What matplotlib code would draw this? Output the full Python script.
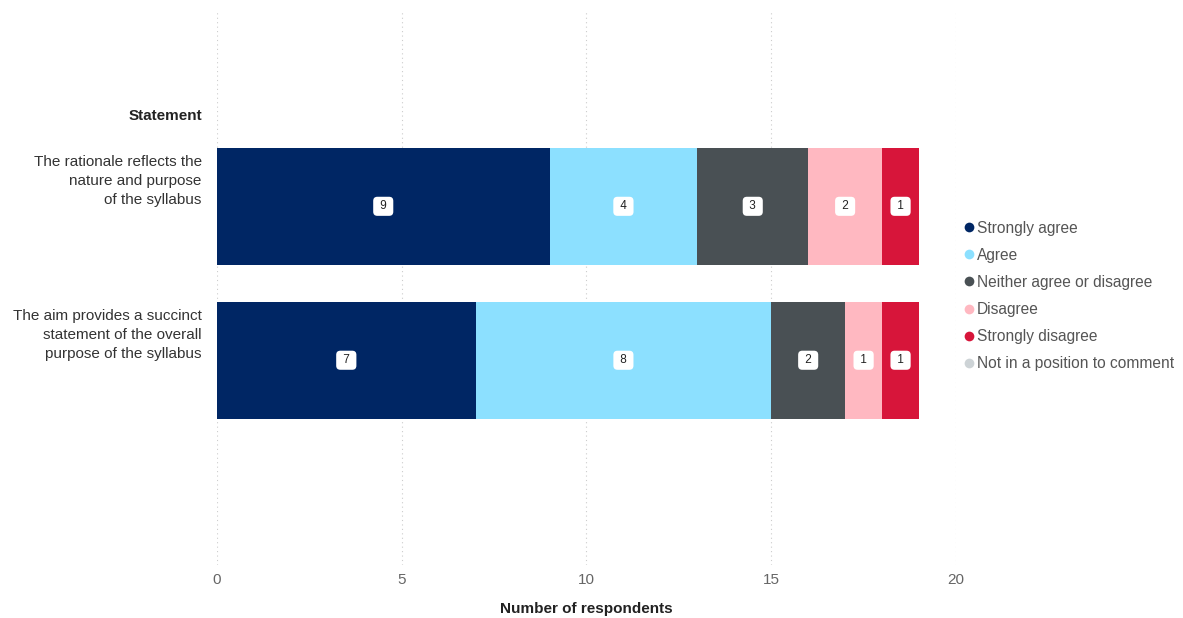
import matplotlib
matplotlib.use("Agg")
import matplotlib.pyplot as plt
from matplotlib.lines import Line2D

plt.rcParams["font.family"] = ["Liberation Sans", "DejaVu Sans"]

statements = [
    "The rationale reflects the\nnature and purpose\nof the syllabus",
    "The aim provides a succinct\nstatement of the overall\npurpose of the syllabus",
]
responses = [
    "Strongly agree",
    "Agree",
    "Neither agree or disagree",
    "Disagree",
    "Strongly disagree",
    "Not in a position to comment",
]
strongly_agree = [9, 7]
agree = [4, 8]
neither = [3, 2]
disagree = [2, 1]
strongly_disagree = [1, 1]
no_comment = [0, 0]
colors = ["#002664", "#8CE0FF", "#495054", "#FFB8C1", "#D7153A", "#CDD3D6"]
x_ticks = [0, 5, 10, 15, 20]

series = [strongly_agree, agree, neither, disagree, strongly_disagree, no_comment]

fig = plt.figure(figsize=(11.83, 6.18), dpi=100)
ax = fig.add_axes([0.1834, 0.0858, 0.6247, 0.8982])

ypos = list(range(len(statements)))
left = [0] * len(statements)
for vals, col in zip(series, colors):
    ax.barh(ypos, vals, left=left, height=0.76, color=col, edgecolor="none", zorder=2)
    for i, v in enumerate(vals):
        if v > 0:
            ax.text(left[i] + v / 2, ypos[i], f" {v} ", ha="center", va="center",
                    fontsize=8.5, color="#222222", zorder=3,
                    bbox=dict(boxstyle="round,pad=0.3,rounding_size=0.35",
                              fc="white", ec="none"))
    left = [l + v for l, v in zip(left, vals)]

ax.set_xlim(0, 20)
ax.set_ylim(1 + 1.33, -1.276)
ax.set_xticks(x_ticks)
ax.set_xticklabels([str(t) for t in x_ticks], fontsize=11, color="#666666")
ax.tick_params(axis="x", length=0, pad=6)
ax.set_yticks([])
ax.grid(axis="x", linestyle=(0, (1, 3)), color="#cccccc", linewidth=0.8, zorder=0)
for s in ax.spines.values():
    s.set_visible(False)

# category labels sit near the top edge of each bar
for y, label in zip(ypos, statements):
    ax.annotate(label, xy=(0, y - 0.335), xycoords=("axes fraction", "data"),
                xytext=(-11, 0), textcoords="offset points",
                ha="right", va="top", fontsize=11, color="#333333",
                linespacing=1.45)

ax.set_xlabel("Number of respondents", fontsize=11, fontweight="bold",
              color="#222222", labelpad=10.5)

fig.text(0.1708, 1 - 116 / 618, "Statement", ha="right", va="center",
         fontsize=11, fontweight="bold", color="#222222")

handles = [Line2D([0], [0], marker="o", linestyle="none", markersize=7,
                  markerfacecolor=c, markeredgecolor="none") for c in colors]
leg = fig.legend(handles, responses, loc="center left",
                 bbox_to_anchor=(0.8125, 1 - 296 / 618), frameon=False,
                 fontsize=11.2, handletextpad=0.0, handlelength=1.0,
                 labelspacing=0.78, borderaxespad=0, borderpad=0)
for t in leg.get_texts():
    t.set_color("#555555")

fig.savefig("out.png", dpi=100)
